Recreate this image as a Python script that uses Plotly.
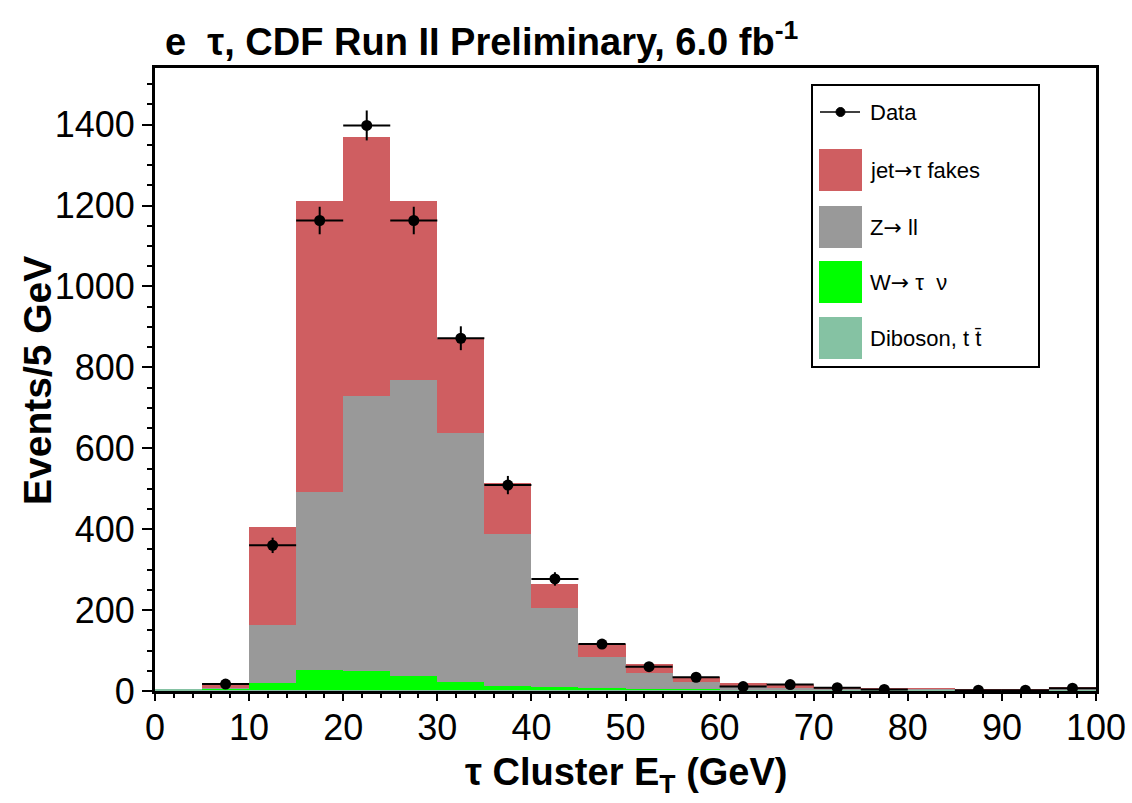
import plotly.graph_objects as go

# ---- data ----
bin_centers = [2.5, 7.5, 12.5, 17.5, 22.5, 27.5, 32.5, 37.5, 42.5, 47.5,
               52.5, 57.5, 62.5, 67.5, 72.5, 77.5, 82.5, 87.5, 92.5, 97.5]
diboson = [5, 4, 3, 3, 3, 3, 3, 3, 3, 3, 3, 3, 3, 3, 3, 3, 3, 3, 3, 4]
w_taunu = [0, 1, 17, 49, 46, 34, 19, 10, 7, 5, 2, 1, 0.5, 0.5, 0.5, 0, 0, 0, 0, 0]
z_ll = [0, 3, 143, 439, 679, 731, 615, 375, 195, 77, 40, 19, 8, 5, 2.5, 1, 2, 0.5, 0.5, 2]
fakes = [0, 9, 242, 721, 642, 444, 232, 126, 59, 31, 22, 12, 8, 7, 5, 1, 2, 0.5, 0.5, 3]

data_x = [7.5, 12.5, 17.5, 22.5, 27.5, 32.5, 37.5, 42.5, 47.5, 52.5,
          57.5, 62.5, 67.5, 72.5, 77.5, 87.5, 92.5, 97.5]
data_y = [17, 360, 1163, 1398, 1163, 872, 509, 277, 116, 60,
          34, 11, 16, 8, 4, 2, 2, 7]
data_err = [4.1, 19, 34, 37, 34, 29.5, 22.6, 16.6, 10.8, 7.7,
            5.8, 3.3, 4.0, 2.8, 2.0, 1.4, 1.4, 2.6]

bin_width = 5
x_ticks = [0, 10, 20, 30, 40, 50, 60, 70, 80, 90, 100]
y_ticks = [0, 200, 400, 600, 800, 1000, 1200, 1400]

C_FAKE = "#cf5e61"
C_Z = "#999999"
C_W = "#00ff00"
C_DIB = "#85c2a3"

FONT = "Liberation Sans, Arial, Helvetica, sans-serif"
ARROW = '<span style="font-family:DejaVu Sans">→</span>'

fig = go.Figure()
for vals, col, name in [(diboson, C_DIB, "Diboson, t t̄"),
                        (w_taunu, C_W, "W→ τ ν"),
                        (z_ll, C_Z, "Z→ ll"),
                        (fakes, C_FAKE, "jet→τ fakes")]:
    fig.add_trace(go.Bar(x=bin_centers, y=vals, width=bin_width, name=name,
                         marker=dict(color=col, line=dict(width=0)),
                         showlegend=False))

fig.add_trace(go.Scatter(x=data_x, y=data_y, mode="markers", name="Data",
                         marker=dict(color="black", size=11),
                         error_y=dict(type="data", array=data_err, width=0,
                                      thickness=2, color="black"),
                         error_x=dict(type="constant", value=bin_width / 2,
                                      width=0, thickness=2, color="black"),
                         showlegend=False))

# plot area in pixels
L, R, T, B = 155, 1096, 68, 691
W_, H_ = 1132, 803


def px(xp):
    return (xp - L) / (R - L)


def py(yp):
    return (B - yp) / (B - T)


fig.update_layout(
    width=W_, height=H_,
    margin=dict(l=L, r=W_ - R, t=T, b=H_ - B, pad=0, autoexpand=False),
    barmode="stack", bargap=0, showlegend=False,
    plot_bgcolor="white", paper_bgcolor="white",
    font=dict(family=FONT, color="black"),
    xaxis=dict(range=[0, 100], tickvals=x_ticks, ticks="outside", ticklen=7,
               tickwidth=2, tickcolor="black", automargin=False,
               ticklabelstandoff=-4,
               showline=True, linecolor="black", linewidth=3, mirror=True,
               showgrid=False, zeroline=False,
               tickfont=dict(size=36, family=FONT),
               minor=dict(dtick=2, ticks="outside", ticklen=4, tickwidth=1.5,
                          tickcolor="black", showgrid=False)),
    yaxis=dict(range=[0, 1540], tickvals=y_ticks, ticks="outside", ticklen=10,
               tickwidth=2, tickcolor="black", automargin=False,
               showline=True, linecolor="black", linewidth=3, mirror=True,
               showgrid=False, zeroline=False,
               tickfont=dict(size=36, family=FONT),
               minor=dict(dtick=50, ticks="outside", ticklen=5, tickwidth=1.5,
                          tickcolor="black", showgrid=False)),
)

ann = []
shapes = []
# title
ann.append(dict(x=px(163), y=py(39), xref="paper", yref="paper",
                xanchor="left", yanchor="middle", showarrow=False,
                text="<b>e  τ, CDF Run II Preliminary, 6.0 fb<sup>-1</sup></b>",
                font=dict(size=38, family=FONT, color="black")))
# axis titles
ann.append(dict(x=px(626), y=py(775), xref="paper", yref="paper",
                xanchor="center", yanchor="middle", showarrow=False,
                text="<b>τ Cluster E<sub>T</sub> (GeV)</b>",
                font=dict(size=38, family=FONT, color="black")))
ann.append(dict(x=px(38), y=py(381), xref="paper", yref="paper",
                xanchor="center", yanchor="middle", showarrow=False,
                textangle=-90, text="<b>Events/5 GeV</b>",
                font=dict(size=39, family=FONT, color="black")))

# legend
shapes.append(dict(type="rect", xref="paper", yref="paper",
                   x0=px(812), x1=px(1039), y0=py(367), y1=py(85),
                   line=dict(color="black", width=2), fillcolor="white",
                   layer="above"))
shapes.append(dict(type="line", xref="paper", yref="paper",
                   x0=px(820), x1=px(860), y0=py(112), y1=py(112),
                   line=dict(color="black", width=1.5), layer="above"))
shapes.append(dict(type="circle", xref="paper", yref="paper",
                   x0=px(836), x1=px(845), y0=py(116.5), y1=py(107.5),
                   line=dict(color="black", width=1), fillcolor="black",
                   layer="above"))
ann.append(dict(x=px(868), y=py(112), xref="paper", yref="paper",
                xanchor="left", yanchor="middle", showarrow=False,
                text="Data", font=dict(size=22, family=FONT, color="black")))
entries = [(C_FAKE, "jet" + ARROW + "τ fakes", 170),
           (C_Z, "Z" + ARROW + " ll", 227),
           (C_W, "W" + ARROW + " τ  ν", 282),
           (C_DIB, "Diboson, t t̄", 338)]
for col, lab, yc in entries:
    shapes.append(dict(type="rect", xref="paper", yref="paper",
                       x0=px(819), x1=px(862), y0=py(yc + 21), y1=py(yc - 21),
                       line=dict(width=0), fillcolor=col, layer="above"))
    ann.append(dict(x=px(868), y=py(yc), xref="paper", yref="paper",
                    xanchor="left", yanchor="middle", showarrow=False,
                    text=lab, font=dict(size=22, family=FONT, color="black")))

fig.update_layout(annotations=ann, shapes=shapes)
fig.write_html("out.html")
